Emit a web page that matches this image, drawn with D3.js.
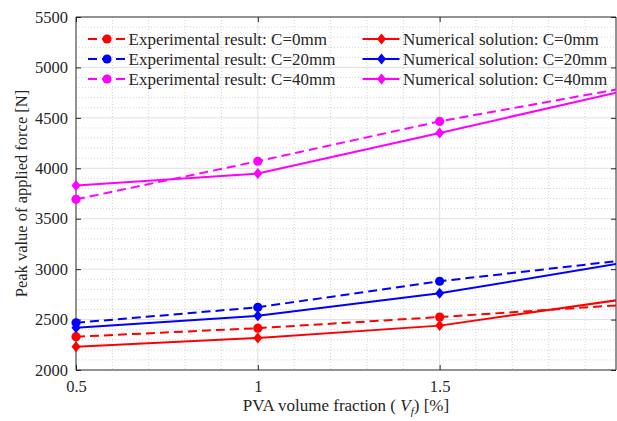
<!DOCTYPE html>
<html>
<head>
<meta charset="utf-8">
<script src="https://cdn.jsdelivr.net/npm/d3@7"></script>
<style>
  html, body { margin: 0; padding: 0; background: #fff; }
  svg text { font-family: 'Liberation Serif', 'DejaVu Serif', serif !important; }
</style>
</head>
<body>
<svg id="chart" width="617" height="421"></svg>
<script>
// PVA volume fraction (%)
const vf = [0.5, 1, 1.5, 2];
// Peak applied force [N]
const expC0  = [2330, 2415, 2525, 2644];
const expC20 = [2468, 2622, 2880, 3085];
const expC40 = [3692, 4070, 4465, 4790];
const numC0  = [2230, 2318, 2440, 2698];
const numC20 = [2418, 2537, 2760, 3060];
const numC40 = [3830, 3948, 4350, 4762];

const xTicks = [0.5, 1, 1.5];
const yTicks = [2000, 2500, 3000, 3500, 4000, 4500, 5000, 5500];
const legendLabels = [
  "Experimental result: C=0mm", "Experimental result: C=20mm", "Experimental result: C=40mm",
  "Numerical solution: C=0mm", "Numerical solution: C=20mm", "Numerical solution: C=40mm"
];

const series = [
  { values: expC0,  color: "#ff0000", dashed: true,  marker: "circle" },
  { values: expC20, color: "#0000ff", dashed: true,  marker: "circle" },
  { values: expC40, color: "#ff00ff", dashed: true,  marker: "circle" },
  { values: numC0,  color: "#ff0000", dashed: false, marker: "diamond" },
  { values: numC20, color: "#0000ff", dashed: false, marker: "diamond" },
  { values: numC40, color: "#ff00ff", dashed: false, marker: "diamond" }
];

const pLeft = 76, pRight = 616, pTop = 17, pBottom = 370;
const svg = d3.select("#chart");
const serif = "'Liberation Serif', 'DejaVu Serif', serif";

const x = d3.scaleLinear().domain([0.5, 1.985]).range([pLeft, pRight]);
const y = d3.scaleLinear().domain([2000, 5500]).range([pBottom, pTop]);

const axisColor = "#262626";
const fontSize = 16.5;
const legendFont = 17;

// minor grid (dotted)
const minorX = d3.range(6, 20).map(d => d / 10).filter(d => !xTicks.includes(d) && d < 1.985);
const minorY = d3.range(2100, 5500, 100).filter(d => d % 500 !== 0);
const grid = svg.append("g");
grid.selectAll(".mx").data(minorX).join("line")
  .attr("x1", d => x(d)).attr("x2", d => x(d)).attr("y1", pTop).attr("y2", pBottom)
  .attr("stroke", "#d4d4d4").attr("stroke-width", 1).attr("stroke-dasharray", "1,2");
grid.selectAll(".my").data(minorY).join("line")
  .attr("x1", pLeft).attr("x2", pRight).attr("y1", d => y(d)).attr("y2", d => y(d))
  .attr("stroke", "#d4d4d4").attr("stroke-width", 1).attr("stroke-dasharray", "1,2");
// major grid
grid.selectAll(".gx").data(xTicks.slice(1)).join("line")
  .attr("x1", d => x(d)).attr("x2", d => x(d)).attr("y1", pTop).attr("y2", pBottom)
  .attr("stroke", "#e0e0e0").attr("stroke-width", 1);
grid.selectAll(".gy").data(yTicks.slice(1, -1)).join("line")
  .attr("x1", pLeft).attr("x2", pRight).attr("y1", d => y(d)).attr("y2", d => y(d))
  .attr("stroke", "#e0e0e0").attr("stroke-width", 1);

// axes (ticks inward, box style)
const tickLen = 5;
const axBottom = svg.append("g").attr("transform", `translate(0,${pBottom})`)
  .call(d3.axisBottom(x).tickValues(xTicks).tickSize(-tickLen).tickPadding(10).tickFormat(d3.format("")));
const axTop = svg.append("g").attr("transform", `translate(0,${pTop})`)
  .call(d3.axisTop(x).tickValues(xTicks).tickSize(-tickLen).tickFormat(""));
const axLeft = svg.append("g").attr("transform", `translate(${pLeft},0)`)
  .call(d3.axisLeft(y).tickValues(yTicks).tickSize(-tickLen).tickPadding(8).tickFormat(d3.format("d")));
const axRight = svg.append("g").attr("transform", `translate(${pRight},0)`)
  .call(d3.axisRight(y).tickValues(yTicks).tickSize(-tickLen).tickFormat(""));
[axBottom, axTop, axLeft, axRight].forEach(g => {
  g.attr("font-family", serif).attr("font-size", fontSize);
  g.select(".domain").attr("stroke", axisColor).attr("stroke-width", 1);
  g.selectAll(".tick line").attr("stroke", axisColor);
  g.selectAll("text").attr("fill", axisColor);
});
axBottom.select(".domain").attr("d", `M${pLeft},0H${pRight}`);
axTop.select(".domain").attr("d", `M${pLeft},0H${pRight}`);
axLeft.select(".domain").attr("d", `M0,${pTop}V${pBottom}`);
axRight.select(".domain").attr("d", `M0,${pTop}V${pBottom}`);

// clip for data lines
svg.append("clipPath").attr("id", "plotClip").append("rect")
  .attr("x", pLeft).attr("y", pTop - 6).attr("width", pRight - pLeft).attr("height", pBottom - pTop + 12);

const line = d3.line().x((d, i) => x(vf[i])).y(d => y(d));
const diamond = (cx, cy) => `M${cx},${cy - 5.5}L${cx + 4.5},${cy}L${cx},${cy + 5.5}L${cx - 4.5},${cy}Z`;

const plot = svg.append("g").attr("clip-path", "url(#plotClip)");
series.forEach(s => {
  plot.append("path").datum(s.values)
    .attr("d", line).attr("fill", "none").attr("stroke", s.color).attr("stroke-width", 2)
    .attr("stroke-dasharray", s.dashed ? "9,5" : null);
});
const markersG = svg.append("g");
series.forEach(s => {
  const pts = s.values.map((v, i) => [vf[i], v]).filter(p => p[0] <= 1.5);
  if (s.marker === "circle") {
    markersG.selectAll(null).data(pts).join("circle")
      .attr("cx", d => x(d[0])).attr("cy", d => y(d[1])).attr("r", 4.6).attr("fill", s.color);
  } else {
    markersG.selectAll(null).data(pts).join("path")
      .attr("d", d => diamond(x(d[0]), y(d[1]))).attr("fill", s.color);
  }
});

// legend
const legend = svg.append("g").attr("font-family", serif).attr("font-size", legendFont);
const colX = [88, 362.5];
const rowY = [39, 59, 79];
series.forEach((s, i) => {
  const cx = colX[Math.floor(i / 3)], cy = rowY[i % 3];
  const g = legend.append("g");
  g.append("line").attr("x1", cx).attr("x2", cx + 37).attr("y1", cy).attr("y2", cy)
    .attr("stroke", s.color).attr("stroke-width", 2)
    .attr("stroke-dasharray", s.dashed ? "9,5" : null);
  if (s.marker === "circle") {
    g.append("circle").attr("cx", cx + 19).attr("cy", cy).attr("r", 4.6).attr("fill", s.color);
  } else {
    g.append("path").attr("d", diamond(cx + 19, cy)).attr("fill", s.color);
  }
  g.append("text").attr("x", cx + 40.5).attr("y", cy + 6)
    .attr("fill", axisColor).text(legendLabels[i]);
});

// axis titles
svg.append("text")
  .attr("transform", `translate(27,${(pTop + pBottom) / 2}) rotate(-90)`)
  .attr("text-anchor", "middle").attr("fill", axisColor)
  .attr("font-family", serif).attr("font-size", fontSize)
  .text("Peak value of applied force [N]");

const xt = svg.append("text")
  .attr("x", (pLeft + pRight) / 2).attr("y", 411)
  .attr("text-anchor", "middle").attr("fill", axisColor)
  .attr("font-family", serif).attr("font-size", 17);
xt.append("tspan").text("PVA volume fraction ( ");
xt.append("tspan").attr("font-style", "italic").text("V");
xt.append("tspan").attr("font-style", "italic").attr("font-size", 11).attr("dy", 4).text("f");
xt.append("tspan").attr("dy", -4).text(") [%]");
</script>
</body>
</html>
